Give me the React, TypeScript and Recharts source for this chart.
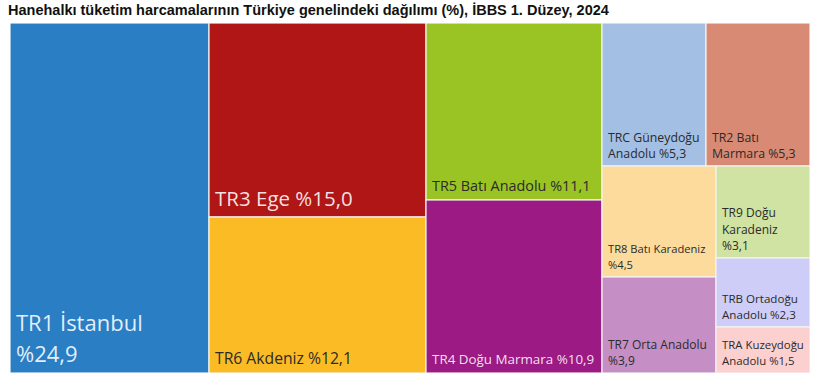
import React from "react";
import { Treemap } from "recharts";

// IBBS 1. düzey bölgeler, tüketim harcaması payı (%)
const regionNames = [
  "TR1 İstanbul",
  "TR3 Ege",
  "TR6 Akdeniz",
  "TR5 Batı Anadolu",
  "TR4 Doğu Marmara",
  "TRC Güneydoğu Anadolu",
  "TR2 Batı Marmara",
  "TR8 Batı Karadeniz",
  "TR7 Orta Anadolu",
  "TR9 Doğu Karadeniz",
  "TRB Ortadoğu Anadolu",
  "TRA Kuzeydoğu Anadolu",
];
const shares = [24.9, 15.0, 12.1, 11.1, 10.9, 5.3, 5.3, 4.5, 3.9, 3.1, 2.3, 1.5];

const regionColors: Record<string, string> = {
  "TR1 İstanbul": "#2a7ec4",
  "TR3 Ege": "#b01616",
  "TR6 Akdeniz": "#fbbb24",
  "TR5 Batı Anadolu": "#99c424",
  "TR4 Doğu Marmara": "#9c1a84",
  "TRC Güneydoğu Anadolu": "#a4bfe4",
  "TR2 Batı Marmara": "#d98a74",
  "TR8 Batı Karadeniz": "#fddb9c",
  "TR7 Orta Anadolu": "#c58fc6",
  "TR9 Doğu Karadeniz": "#d0e3a2",
  "TRB Ortadoğu Anadolu": "#cdcdf8",
  "TRA Kuzeydoğu Anadolu": "#fdd0d0",
};

// label font size per cell (Excel scaled them)
const fontSizes: Record<string, number> = {
  "TR1 İstanbul": 22,
  "TR3 Ege": 20.5,
  "TR6 Akdeniz": 15.7,
  "TR5 Batı Anadolu": 14.4,
  "TR4 Doğu Marmara": 13.4,
  "TRC Güneydoğu Anadolu": 12.3,
  "TR2 Batı Marmara": 12.3,
  "TR8 Batı Karadeniz": 11.2,
  "TR7 Orta Anadolu": 12,
  "TR9 Doğu Karadeniz": 12,
  "TRB Ortadoğu Anadolu": 11.6,
  "TRA Kuzeydoğu Anadolu": 11.4,
};

const lightText = new Set(["TR1 İstanbul", "TR3 Ege", "TR4 Doğu Marmara"]);

const FONT = '"Open Sans", sans-serif';

const data = regionNames.map((name, i) => ({ name, size: shares[i] }));

let ctx: CanvasRenderingContext2D | null = null;
function measure(text: string, size: number) {
  if (!ctx) ctx = document.createElement("canvas").getContext("2d");
  if (!ctx) return text.length * size * 0.55;
  ctx.font = `${size}px "Open Sans"`;
  return ctx.measureText(text).width;
}

function wrap(text: string, size: number, maxWidth: number) {
  const words = text.split(" ");
  const lines: string[] = [];
  let cur = "";
  for (const w of words) {
    const next = cur ? cur + " " + w : w;
    if (cur && measure(next, size) > maxWidth) {
      lines.push(cur);
      cur = w;
    } else {
      cur = next;
    }
  }
  if (cur) lines.push(cur);
  return lines;
}

function Cell(props: any) {
  const { x, y, width, height, depth, name, value } = props;
  if (depth !== 1) return <g />;
  const size = fontSizes[name] ?? 12;
  const label = `${name} %${Number(value).toFixed(1).replace(".", ",")}`;
  const lines = wrap(label, size, width - 12);
  const lh = size > 18 ? size * 1.4 : 16.5;
  const baseY = y + height - (size > 18 ? 11 : size > 13 ? 9 : 8);
  return (
    <g>
      <rect x={x} y={y} width={width} height={height} fill={regionColors[name]} stroke="#f4f4f4" strokeWidth={1.2} />
      <text
        fontFamily={FONT}
        fontSize={size}
        fill={lightText.has(name) ? "rgba(255,255,255,0.88)" : "#2b2b2b"}
      >
        {lines.map((l, i) => (
          <tspan key={i} x={x + 6} y={baseY - (lines.length - 1 - i) * lh}>
            {l}
          </tspan>
        ))}
      </text>
    </g>
  );
}

export default function App() {
  return (
    <div style={{ position: "absolute", left: 0, top: 0, width: 820, height: 390, background: "#fff" }}>
      <div
        style={{
          position: "absolute",
          left: 8,
          top: 2,
          fontFamily: '"Liberation Sans", Arial, sans-serif',
          fontWeight: 700,
          fontSize: 14.5,
          lineHeight: "17px",
          color: "#111",
          whiteSpace: "nowrap",
        }}
      >
        Hanehalkı tüketim harcamalarının Türkiye genelindeki dağılımı (%), İBBS 1. Düzey, 2024
      </div>
      <div style={{ position: "absolute", left: 10, top: 23 }}>
        <Treemap
          width={800}
          height={350}
          data={data}
          dataKey="size"
          nameKey="name"
          aspectRatio={1}
          isAnimationActive={false}
          content={<Cell />}
        />
      </div>
    </div>
  );
}
